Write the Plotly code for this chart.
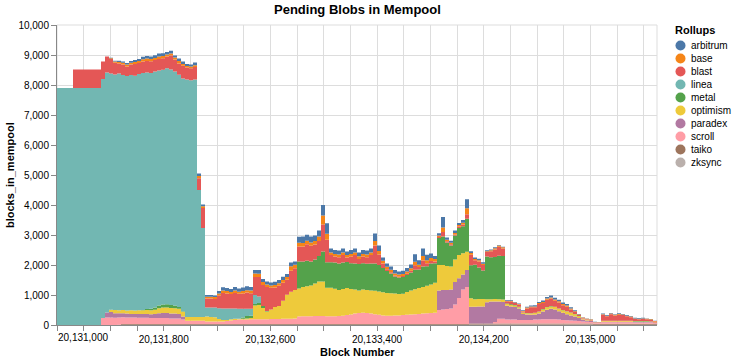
import plotly.graph_objects as go

# Block numbers sampled every 30 blocks
blocks = list(range(20131000, 20135501, 30))

zksync = [
    0, 0, 0, 0, 0, 0, 0, 0, 0, 0,
    0, 0, 0, 0, 0, 0, 10, 10, 10, 10,
    10, 10, 10, 10, 10, 10, 10, 10, 10, 10,
    10, 10, 10, 10, 10, 10, 10, 10, 10, 10,
    10, 10, 10, 10, 10, 10, 10, 10, 10, 10,
    10, 10, 10, 10, 10, 10, 10, 10, 10, 10,
    10, 10, 10, 10, 10, 10, 10, 10, 10, 10,
    10, 10, 10, 10, 10, 10, 10, 10, 10, 10,
    10, 10, 10, 10, 10, 10, 10, 10, 10, 10,
    10, 10, 10, 10, 10, 10, 10, 10, 10, 10,
    10, 10, 10, 15, 15, 15, 15, 15, 15, 15,
    15, 15, 15, 15, 15, 15, 15, 15, 15, 15,
    15, 15, 15, 15, 15, 15, 15, 15, 15, 15,
    15, 15, 15, 15, 10, 10, 10, 10, 10, 10,
    10, 10, 10, 10, 10, 10, 10, 10, 10, 10,
    0]

taiko = [
    0, 0, 0, 0, 0, 0, 0, 0, 0, 0,
    0, 0, 0, 0, 0, 10, 20, 20, 20, 20,
    20, 20, 20, 20, 20, 20, 20, 20, 20, 20,
    20, 20, 20, 20, 20, 20, 20, 20, 20, 20,
    20, 20, 20, 20, 20, 20, 20, 20, 20, 20,
    20, 20, 20, 20, 20, 20, 20, 20, 20, 20,
    20, 20, 20, 20, 20, 20, 20, 20, 20, 20,
    20, 20, 20, 20, 20, 20, 20, 20, 20, 20,
    20, 20, 20, 20, 20, 20, 20, 20, 20, 20,
    20, 20, 20, 20, 20, 20, 20, 20, 20, 20,
    20, 20, 20, 35, 35, 35, 35, 35, 35, 35,
    35, 35, 35, 35, 35, 35, 35, 35, 35, 35,
    35, 35, 35, 35, 35, 35, 35, 35, 35, 35,
    35, 35, 35, 35, 30, 30, 30, 30, 30, 30,
    30, 30, 30, 30, 30, 30, 30, 30, 30, 20,
    10]

scroll = [
    0, 0, 0, 0, 0, 0, 0, 0, 0, 0,
    0, 230, 250, 250, 240, 240, 230, 220, 220, 220,
    210, 210, 210, 200, 200, 200, 200, 200, 190, 190,
    190, 150, 110, 110, 110, 110, 110, 90, 90, 90,
    90, 90, 100, 120, 140, 150, 150, 150, 160, 160,
    160, 160, 160, 170, 170, 170, 180, 180, 180, 190,
    250, 260, 260, 260, 270, 270, 270, 260, 260, 260,
    270, 280, 300, 320, 350, 370, 380, 370, 350, 330,
    310, 290, 280, 280, 290, 290, 300, 310, 320, 330,
    340, 350, 360, 370, 380, 470, 490, 500, 520, 650,
    870, 1150, 1240, 0, 0, 0, 0, 0, 0, 50,
    160, 160, 130, 130, 130, 120, 120, 120, 120, 130,
    130, 140, 140, 140, 140, 130, 120, 110, 100, 90,
    80, 70, 60, 50, 30, 30, 50, 50, 50, 50,
    50, 50, 50, 50, 40, 40, 40, 40, 40, 30,
    10]

paradex = [
    0, 0, 0, 0, 0, 0, 0, 0, 0, 0,
    0, 0, 170, 180, 150, 140, 130, 130, 120, 120,
    130, 130, 130, 130, 140, 160, 170, 170, 160, 160,
    150, 100, 0, 0, 0, 0, 0, 0, 0, 0,
    0, 0, 0, 0, 0, 0, 0, 0, 0, 0,
    0, 0, 0, 0, 0, 0, 0, 0, 0, 0,
    0, 0, 0, 0, 0, 0, 0, 0, 0, 0,
    0, 0, 0, 0, 0, 0, 0, 0, 0, 0,
    0, 0, 0, 0, 0, 0, 0, 0, 0, 0,
    0, 0, 0, 0, 0, 650, 650, 640, 630, 750,
    660, 500, 560, 560, 560, 570, 570, 710, 730, 680,
    570, 560, 460, 440, 420, 380, 200, 180, 170, 170,
    200, 260, 320, 350, 330, 280, 240, 200, 170, 140,
    100, 60, 40, 30, 10, 10, 20, 20, 20, 20,
    20, 20, 20, 20, 20, 20, 20, 20, 20, 10,
    0]

optimism = [
    0, 0, 0, 0, 0, 0, 0, 0, 0, 0,
    0, 0, 0, 80, 110, 100, 110, 100, 120, 110,
    120, 120, 130, 130, 140, 170, 180, 180, 190, 180,
    170, 160, 130, 130, 130, 130, 130, 160, 150, 140,
    80, 50, 40, 40, 40, 30, 30, 40, 40, 460,
    480, 380, 260, 320, 400, 430, 600, 800, 900, 950,
    940, 980, 1000, 1030, 1080, 1150, 1150, 950, 950, 920,
    870, 890, 900, 850, 800, 750, 770, 770, 770, 780,
    780, 770, 760, 750, 730, 710, 710, 760, 800, 830,
    860, 890, 920, 950, 1000, 850, 830, 800, 770, 750,
    770, 710, 610, 280, 250, 250, 250, 100, 80, 90,
    80, 80, 60, 50, 50, 40, 40, 40, 40, 50,
    60, 70, 80, 80, 80, 80, 80, 90, 90, 80,
    60, 40, 30, 20, 10, 10, 20, 20, 20, 20,
    20, 20, 20, 20, 20, 20, 20, 20, 10, 10,
    0]

metal = [
    0, 0, 0, 0, 0, 0, 0, 0, 0, 0,
    0, 0, 0, 0, 0, 0, 0, 0, 0, 0,
    0, 10, 30, 50, 70, 90, 100, 110, 100, 90,
    60, 20, 0, 0, 0, 0, 0, 0, 0, 0,
    0, 0, 0, 0, 0, 0, 40, 80, 80, 50,
    60, 60, 20, 0, 0, 0, 0, 0, 0, 0,
    900, 850, 850, 800, 800, 850, 1000, 850, 850, 870,
    880, 880, 870, 860, 870, 880, 880, 870, 900, 910,
    880, 810, 730, 660, 570, 550, 560, 570, 600, 650,
    620, 680, 650, 700, 650, 900, 950, 780, 700, 800,
    900, 900, 1100, 1100, 1150, 1050, 950, 1420, 1400, 1400,
    1450, 1450, 20, 20, 20, 20, 10, 10, 10, 10,
    10, 10, 10, 10, 10, 10, 10, 10, 10, 10,
    10, 0, 0, 0, 0, 0, 10, 10, 10, 10,
    10, 10, 10, 10, 10, 10, 10, 10, 10, 0,
    0]

linea = [
    7900, 7900, 7900, 7900, 7900, 7900, 7900, 7900, 7900, 7900,
    7900, 7970, 8000, 7870, 7850, 7890, 7830, 7820, 7840, 7830,
    7880, 7900, 7890, 7860, 7870, 7830, 7830, 7870, 7850, 7800,
    7740, 7760, 7910, 7890, 7910, 4230, 2960, 300, 310, 320,
    360, 380, 380, 360, 340, 330, 290, 240, 230, 300,
    220, 0, 0, 0, 0, 0, 0, 0, 0, 0,
    0, 0, 0, 0, 0, 0, 0, 0, 0, 0,
    0, 0, 0, 0, 0, 0, 0, 0, 0, 0,
    0, 0, 0, 0, 0, 0, 0, 0, 0, 0,
    0, 0, 0, 0, 0, 0, 0, 0, 0, 0,
    0, 0, 0, 0, 0, 0, 0, 0, 0, 0,
    0, 0, 0, 0, 0, 0, 0, 0, 0, 0,
    0, 0, 0, 0, 0, 0, 0, 0, 0, 0,
    0, 0, 0, 0, 0, 0, 0, 0, 0, 0,
    0, 0, 0, 0, 0, 0, 0, 0, 0, 0,
    0]

blast = [
    0, 0, 0, 0, 620, 620, 620, 620, 620, 620,
    620, 580, 530, 490, 390, 340, 350, 320, 350, 390,
    360, 380, 380, 390, 380, 390, 380, 390, 460, 400,
    380, 420, 400, 400, 420, 390, 670, 300, 300, 290,
    420, 520, 500, 480, 520, 500, 510, 540, 520, 600,
    650, 700, 800, 720, 650, 680, 600, 500, 700, 720,
    500, 500, 550, 520, 500, 500, 900, 750, 240, 200,
    210, 250, 150, 220, 280, 170, 220, 220, 280, 600,
    350, 150, 60, 40, 30, 30, 30, 40, 60, 150,
    80, 200, 100, 80, 60, 30, 150, 40, 40, 40,
    50, 60, 150, 350, 150, 200, 180, 150, 200, 250,
    300, 250, 70, 90, 60, 70, 30, 150, 200, 180,
    250, 200, 240, 250, 200, 200, 160, 150, 100, 60,
    30, 20, 20, 20, 10, 10, 200, 150, 220, 180,
    200, 190, 150, 120, 70, 60, 70, 60, 50, 40,
    10]

base = [
    0, 0, 0, 0, 0, 0, 0, 0, 0, 0,
    0, 0, 0, 20, 40, 50, 60, 60, 60, 70,
    70, 80, 80, 80, 70, 80, 80, 70, 70, 70,
    80, 60, 50, 60, 60, 80, 60, 60, 60, 60,
    70, 80, 80, 70, 80, 70, 80, 80, 90, 120,
    110, 100, 80, 80, 80, 80, 90, 90, 150, 120,
    120, 110, 120, 110, 120, 150, 300, 200, 90, 90,
    90, 90, 80, 90, 90, 90, 90, 90, 90, 150,
    120, 90, 80, 80, 70, 70, 70, 70, 80, 120,
    80, 150, 100, 100, 80, 50, 150, 50, 50, 50,
    50, 60, 200, 60, 40, 40, 40, 30, 30, 40,
    40, 40, 20, 30, 20, 20, 20, 30, 30, 30,
    30, 40, 40, 40, 40, 40, 40, 40, 30, 30,
    20, 10, 10, 10, 0, 0, 20, 20, 20, 20,
    30, 20, 20, 20, 20, 20, 20, 20, 20, 10,
    0]

arbitrum = [
    0, 0, 0, 0, 0, 0, 0, 0, 0, 0,
    0, 0, 0, 20, 30, 40, 40, 50, 60, 60,
    70, 80, 90, 80, 90, 100, 90, 80, 90, 60,
    80, 80, 70, 60, 90, 80, 60, 60, 60, 50,
    80, 110, 100, 100, 120, 110, 120, 130, 120, 110,
    120, 100, 100, 100, 110, 110, 110, 100, 120, 110,
    200, 220, 200, 200, 180, 200, 350, 350, 130, 130,
    130, 130, 120, 130, 130, 130, 130, 130, 130, 250,
    180, 110, 110, 110, 110, 100, 110, 120, 130, 250,
    150, 250, 180, 150, 100, 80, 350, 80, 70, 80,
    70, 90, 300, 60, 50, 50, 50, 30, 30, 30,
    20, 20, 20, 20, 20, 20, 20, 30, 30, 40,
    40, 50, 50, 60, 60, 50, 50, 50, 40, 30,
    20, 10, 10, 10, 10, 0, 20, 20, 20, 20,
    20, 20, 20, 20, 20, 20, 20, 10, 10, 10,
    0]

rollups = ["arbitrum", "base", "blast", "linea", "metal",
           "optimism", "paradex", "scroll", "taiko", "zksync"]
colors = ["#4c78a8", "#f58518", "#e45756", "#72b7b2", "#54a24b",
          "#eeca3b", "#b279a2", "#ff9da6", "#9d755d", "#bab0ac"]
series = {"arbitrum": arbitrum, "base": base, "blast": blast, "linea": linea,
          "metal": metal, "optimism": optimism, "paradex": paradex,
          "scroll": scroll, "taiko": taiko, "zksync": zksync}

for k, v in series.items():
    assert len(v) == len(blocks), (k, len(v), len(blocks))

x_tick_vals = list(range(20131000, 20135401, 200))
x_label_vals = [20131800, 20132600, 20133400, 20134200, 20135000]
y_tick_vals = list(range(0, 10001, 1000))

FONT = "Liberation Sans, Arial, Helvetica, sans-serif"

fig = go.Figure()
# stack bottom-up: zksync first ... arbitrum last (on top)
for name, col in reversed(list(zip(rollups, colors))):
    fig.add_trace(go.Scatter(
        x=blocks, y=series[name], name=name, mode="lines",
        stackgroup="one", line=dict(width=0, color=col, shape="hv"),
        fillcolor=col, hoverinfo="skip", showlegend=False))

W, H = 732, 359
L, R, T, B = 57, 75, 25, 34
PW, PH = W - L - R, H - T - B


def px2paper_x(px):
    return (px - L) / PW


def py2paper_y(py):
    return (H - B - py) / PH


shapes = [dict(type="rect", xref="paper", yref="paper", x0=0, x1=1, y0=0, y1=1,
               line=dict(color="#dddddd", width=1), layer="below")]
annotations = []

# titles
annotations.append(dict(text="Pending Blobs in Mempool", xref="paper", yref="paper",
                        x=0.5, y=py2paper_y(9), xanchor="center", yanchor="middle",
                        showarrow=False,
                        font=dict(family=FONT, size=13, color="#000", weight="bold")))
annotations.append(dict(text="blocks_in_mempool", xref="paper", yref="paper",
                        x=px2paper_x(10), y=0.5, xanchor="center", yanchor="middle",
                        textangle=-90, showarrow=False,
                        font=dict(family=FONT, size=11, color="#000", weight="bold")))
annotations.append(dict(text="Block Number", xref="paper", yref="paper",
                        x=0.5, y=py2paper_y(352), xanchor="center", yanchor="middle",
                        showarrow=False,
                        font=dict(family=FONT, size=11, color="#000", weight="bold")))
# flush first x label
annotations.append(dict(text=f"{x_tick_vals[0]:,}", xref="x", yref="paper",
                        x=x_tick_vals[0], y=py2paper_y(337), xanchor="left", yanchor="middle",
                        xshift=-1, showarrow=False,
                        font=dict(family=FONT, size=10, color="#000")))

# legend
annotations.append(dict(text="Rollups", xref="paper", yref="paper",
                        x=px2paper_x(673), y=py2paper_y(30), xanchor="left", yanchor="middle",
                        showarrow=False,
                        font=dict(family=FONT, size=11, color="#000", weight="bold")))
for k, (name, col) in enumerate(zip(rollups, colors)):
    cy = 45.5 + 13 * k
    shapes.append(dict(type="circle", xref="paper", yref="paper",
                       xsizemode="pixel", ysizemode="pixel",
                       xanchor=px2paper_x(680.5), yanchor=py2paper_y(cy),
                       x0=-5, x1=5, y0=-5, y1=5,
                       fillcolor=col, line=dict(width=0)))
    annotations.append(dict(text=name, xref="paper", yref="paper",
                            x=px2paper_x(689), y=py2paper_y(cy), xanchor="left",
                            yanchor="middle", showarrow=False,
                            font=dict(family=FONT, size=10, color="#000")))

fig.update_layout(
    width=W, height=H,
    margin=dict(l=L, r=R, t=T, b=B, pad=0),
    paper_bgcolor="white", plot_bgcolor="white",
    font=dict(family=FONT, size=10, color="#000"),
    showlegend=False,
    shapes=shapes, annotations=annotations,
    xaxis=dict(range=[20131000, 20135500], tickmode="array", tickvals=x_tick_vals,
               ticktext=[f"{v:,}" if v in x_label_vals else "" for v in x_tick_vals],
               showgrid=True, gridcolor="#dddddd", gridwidth=1,
               ticks="outside", ticklen=5, tickcolor="#888888", tickwidth=1,
               showline=True, linecolor="#888888", linewidth=1, zeroline=False,
               tickfont=dict(family=FONT, size=10, color="#000")),
    yaxis=dict(range=[0, 10000], tickmode="array", tickvals=y_tick_vals,
               ticktext=[f"{v:,}" for v in y_tick_vals],
               showgrid=True, gridcolor="#dddddd", gridwidth=1,
               ticks="outside", ticklen=5, tickcolor="#888888", tickwidth=1,
               showline=True, linecolor="#888888", linewidth=1, zeroline=False,
               tickfont=dict(family=FONT, size=10, color="#000")),
)

fig.write_html("out.html", config={"displayModeBar": False},
               post_script="document.body.style.margin='0';document.body.style.padding='0';")
